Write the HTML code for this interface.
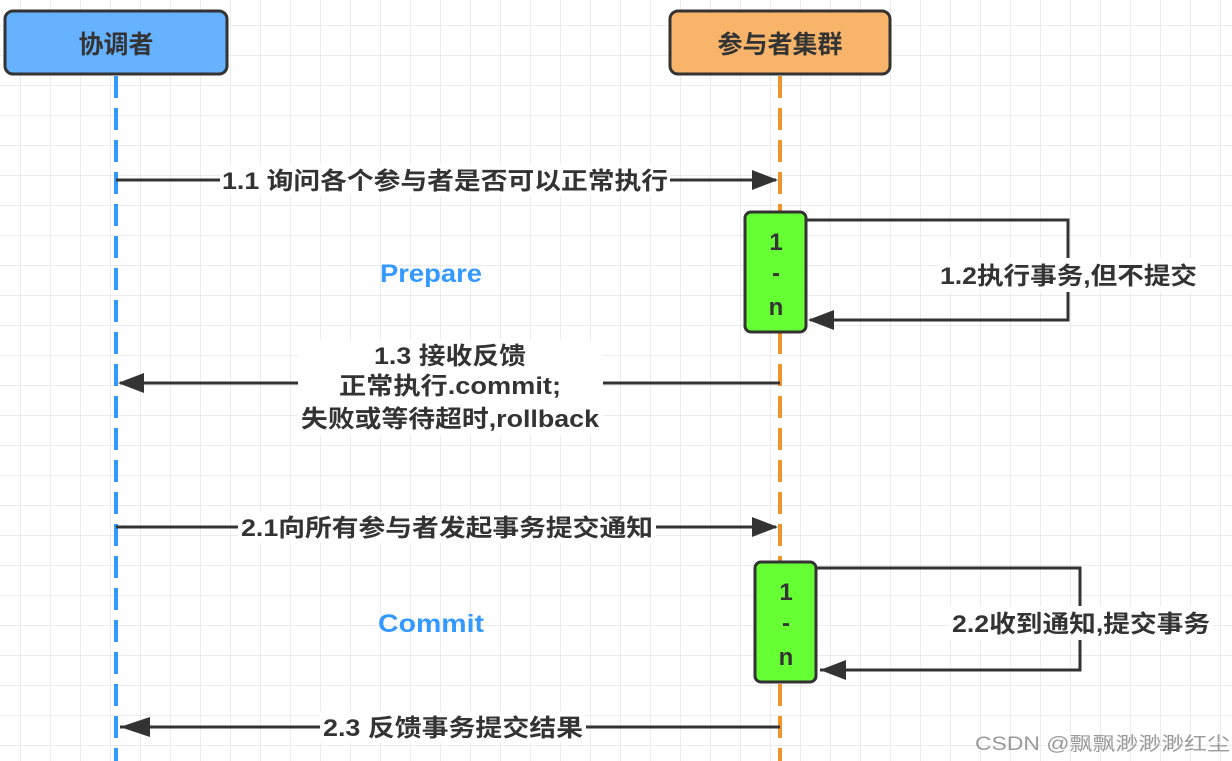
<!DOCTYPE html>
<html><head><meta charset="utf-8"><style>
html,body{margin:0;padding:0;background:#fff;}
svg{display:block;}
text{font-family:"Liberation Sans","Noto Sans CJK SC",sans-serif;font-weight:bold;fill:#333;}
</style></head><body>
<svg width="1232" height="761" viewBox="0 0 1232 761" xmlns="http://www.w3.org/2000/svg">
<defs>
<pattern id="g" x="20" y="25" width="30" height="30" patternUnits="userSpaceOnUse">
<path d="M0 0V30M0 0H30" stroke="#e6e6e6" stroke-width="1.5" fill="none"/>
</pattern>
</defs>
<rect width="1232" height="761" fill="url(#g)"/>
<line x1="116" y1="76" x2="116" y2="761" stroke="#3399ff" stroke-width="4" stroke-dasharray="22,10"/>
<line x1="780" y1="76" x2="780" y2="761" stroke="#f0932b" stroke-width="4" stroke-dasharray="22,10"/>
<rect x="5" y="11" width="222" height="63" rx="8" fill="#66b2ff" stroke="#333" stroke-width="3"/>
<text x="116" y="53" font-size="25" text-anchor="middle">协调者</text>
<rect x="670" y="11" width="220" height="63" rx="8" fill="#f8b46a" stroke="#333" stroke-width="3"/>
<text x="780" y="53" font-size="25" text-anchor="middle">参与者集群</text>
<line x1="116" y1="180" x2="776" y2="180" stroke="#333" stroke-width="3"/>
<path d="M752 170L778 180L752 190z" fill="#333"/>
<rect x="220" y="164" width="450" height="32" fill="#fff"/>
<text x="222" y="189" font-size="24" textLength="446" lengthAdjust="spacingAndGlyphs">1.1 询问各个参与者是否可以正常执行</text>
<path d="M806 220H1068V320H810" fill="none" stroke="#333" stroke-width="3"/>
<path d="M834 310L808 320L834 330z" fill="#333"/>
<rect x="745" y="212" width="61" height="120" rx="6" fill="#66ff33" stroke="#333" stroke-width="3"/>
<text x="776" y="250" font-size="24" text-anchor="middle">1</text>
<text x="776" y="281" font-size="24" text-anchor="middle">-</text>
<text x="776" y="315" font-size="24" text-anchor="middle">n</text>
<rect x="938" y="258" width="262" height="34" fill="#fff"/>
<text x="940" y="284" font-size="24" textLength="257" lengthAdjust="spacingAndGlyphs">1.2执行事务,但不提交</text>
<text x="431" y="282" font-size="25" text-anchor="middle" textLength="102" lengthAdjust="spacingAndGlyphs" style="fill:#3399ff">Prepare</text>
<line x1="120" y1="383" x2="780" y2="383" stroke="#333" stroke-width="3"/>
<path d="M144 373L118 383L144 393z" fill="#333"/>
<rect x="298" y="340" width="305" height="95" fill="#fff"/>
<text x="450" y="364" font-size="24" text-anchor="middle" textLength="152" lengthAdjust="spacingAndGlyphs">1.3 接收反馈</text>
<text x="450" y="394" font-size="24" text-anchor="middle" textLength="222" lengthAdjust="spacingAndGlyphs">正常执行.commit;</text>
<text x="450" y="427" font-size="24" text-anchor="middle" textLength="298" lengthAdjust="spacingAndGlyphs">失败或等待超时,rollback</text>
<line x1="116" y1="527" x2="776" y2="527" stroke="#333" stroke-width="3"/>
<path d="M752 517L778 527L752 537z" fill="#333"/>
<rect x="238" y="511" width="418" height="32" fill="#fff"/>
<text x="241" y="536" font-size="24" textLength="412" lengthAdjust="spacingAndGlyphs">2.1向所有参与者发起事务提交通知</text>
<path d="M816 568H1080V670H820" fill="none" stroke="#333" stroke-width="3"/>
<path d="M846 660L820 670L846 680z" fill="#333"/>
<rect x="755" y="562" width="61" height="120" rx="6" fill="#66ff33" stroke="#333" stroke-width="3"/>
<text x="786" y="600" font-size="24" text-anchor="middle">1</text>
<text x="786" y="631" font-size="24" text-anchor="middle">-</text>
<text x="786" y="665" font-size="24" text-anchor="middle">n</text>
<rect x="950" y="606" width="262" height="34" fill="#fff"/>
<text x="952" y="632" font-size="24" textLength="258" lengthAdjust="spacingAndGlyphs">2.2收到通知,提交事务</text>
<text x="431" y="632" font-size="25" text-anchor="middle" textLength="106" lengthAdjust="spacingAndGlyphs" style="fill:#3399ff">Commit</text>
<line x1="120" y1="727" x2="780" y2="727" stroke="#333" stroke-width="3"/>
<path d="M150 717L120 727L150 737z" fill="#333"/>
<rect x="320" y="711" width="266" height="32" fill="#fff"/>
<text x="323" y="736" font-size="24" textLength="260" lengthAdjust="spacingAndGlyphs">2.3 反馈事务提交结果</text>
<text x="975" y="750" font-size="19" textLength="255" lengthAdjust="spacingAndGlyphs" style="font-weight:normal;fill:#9a9a9a">CSDN @飘飘渺渺渺红尘</text>
</svg>
</body></html>
